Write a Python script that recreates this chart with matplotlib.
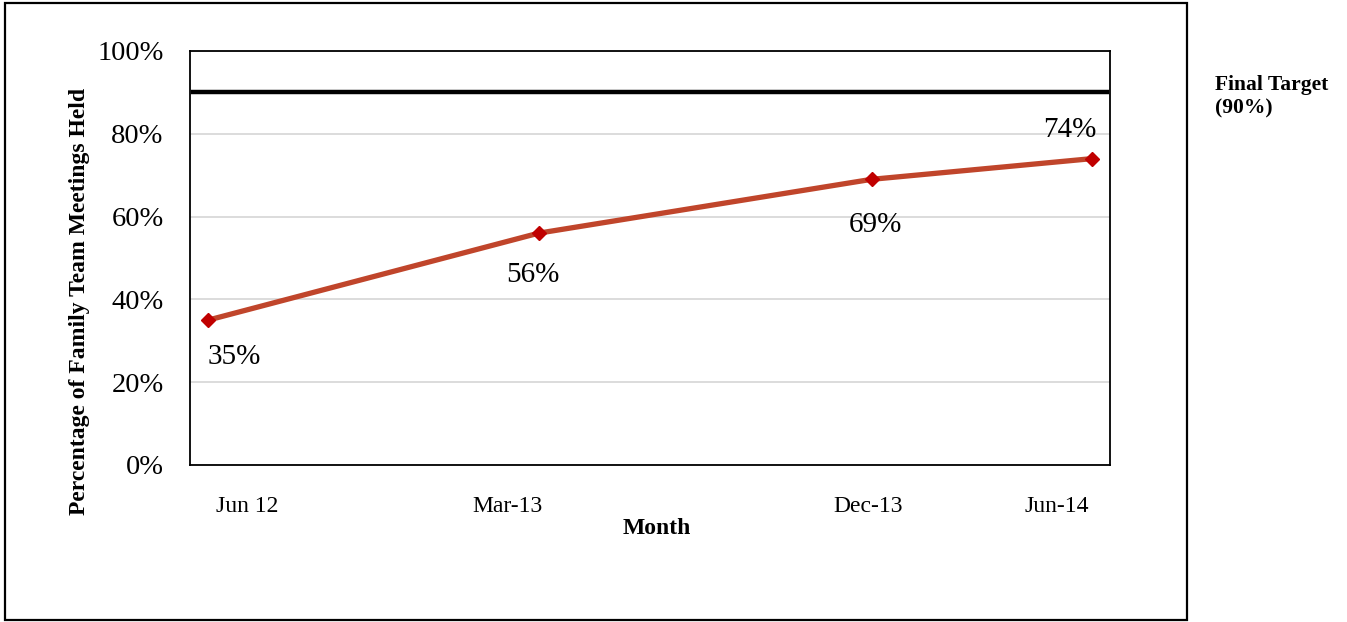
import matplotlib
matplotlib.use("Agg")
import matplotlib.pyplot as plt
import matplotlib.dates as mdates
import matplotlib.transforms as mtransforms
from matplotlib.patches import Rectangle
from datetime import date, timedelta

# Data
months = [date(2012, 6, 1), date(2013, 3, 1), date(2013, 12, 1), date(2014, 6, 1)]
month_labels = ["Jun 12", "Mar-13", "Dec-13", "Jun-14"]
pct_held = [35, 56, 69, 74]
final_target = 90
y_ticks = [0, 20, 40, 60, 80, 100]

plt.rcParams["font.family"] = ["Liberation Serif", "DejaVu Serif"]

W, H, DPI = 1347, 622, 100
fig = plt.figure(figsize=(W / DPI, H / DPI), dpi=DPI)
fig.patch.set_facecolor("white")

ax = fig.add_axes([190 / W, 1 - 465 / H, (1110 - 190) / W, (465 - 51) / H])

# Outer border around the whole chart
fig.patches.append(Rectangle((5 / W, 1 - 620 / H), (1187 - 5) / W, (620 - 3) / H,
                             transform=fig.transFigure, fill=False,
                             edgecolor="black", linewidth=1.6, zorder=0))

x0 = months[0] - timedelta(days=15)
x1 = months[-1] + timedelta(days=15)
ax.set_xlim(mdates.date2num(x0), mdates.date2num(x1))
ax.set_ylim(0, 100)

# Gridlines
ax.set_yticks(y_ticks)
ax.set_yticklabels([f"{v}%" for v in y_ticks], fontsize=20.5)
ax.yaxis.grid(True, color="#D9D9D9", linewidth=1.3)
ax.set_axisbelow(True)
ax.tick_params(axis="y", length=0, pad=19)

for s in ax.spines.values():
    s.set_color("black")
    s.set_linewidth(1.3)

# Target line
ax.axhline(final_target, xmin=0.003, xmax=0.997, color="black", linewidth=3.2, zorder=3)

# Main series
xnum = mdates.date2num(months)
ax.plot(xnum, pct_held, color="#C0452B", linewidth=3.8, zorder=4,
        marker="D", markersize=7.5, markerfacecolor="#C00000",
        markeredgecolor="#C00000")

# Value labels
offsets = [(26, -37), (-6, -42), (4, -46), (-22, 29)]
for xv, yv, (dx, dy) in zip(xnum, pct_held, offsets):
    ax.annotate(f"{yv}%", (xv, yv), xytext=(dx * 72 / DPI, dy * 72 / DPI),
                textcoords="offset points", ha="center", va="center",
                fontsize=21, color="black", zorder=5)

# X ticks
ax.set_xticks(xnum)
ax.set_xticklabels(month_labels, fontsize=17)
ax.tick_params(axis="x", length=0, pad=22)
label_shift = [39, -31, -3, -35]
for lbl, dx in zip(ax.get_xticklabels(), label_shift):
    lbl.set_transform(lbl.get_transform() +
                      mtransforms.ScaledTranslation(dx / DPI, 0, fig.dpi_scale_trans))

# Axis titles
fig.text(657 / W, 1 - 528 / H, "Month", ha="center", va="center",
         fontsize=17, fontweight="bold")
fig.text(80 / W, 1 - 301 / H, "Percentage of Family Team Meetings Held",
         ha="center", va="center", rotation=90, fontsize=17, fontweight="bold")

# Target label
fig.text(1215 / W, 1 - 75 / H, "Final Target\n(90%)", ha="left", va="top",
         fontsize=15.5, fontweight="bold", linespacing=1.2)

fig.savefig("out.png", dpi=DPI, facecolor="white")
